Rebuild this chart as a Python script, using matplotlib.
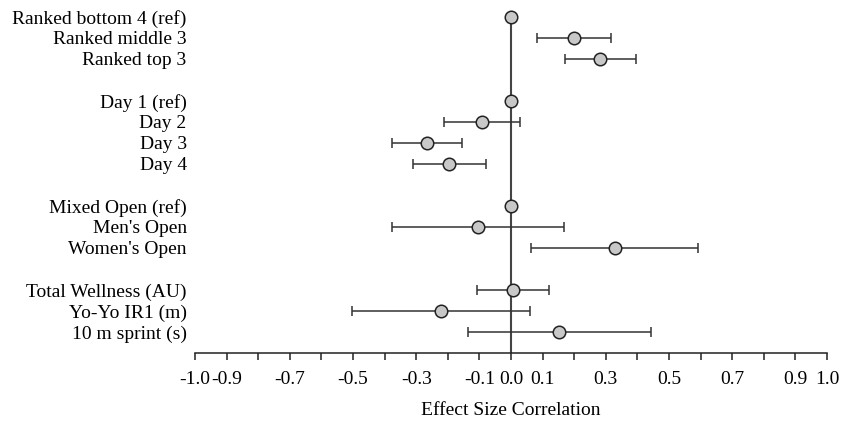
import numpy as np
import matplotlib.pyplot as plt

plt.rcParams['font.family'] = ['Liberation Serif', 'DejaVu Serif']

labels = ["Ranked bottom 4 (ref)", "Ranked middle 3", "Ranked top 3",
          "Day 1 (ref)", "Day 2", "Day 3", "Day 4",
          "Mixed Open (ref)", "Men's Open", "Women's Open",
          "Total Wellness (AU)", "Yo-Yo IR1 (m)", "10 m sprint (s)"]
rows = [0, 1, 2, 4, 5, 6, 7, 9, 10, 11, 13, 14, 15]
effect = [0.0, 0.199, 0.282, 0.0, -0.092, -0.265, -0.196,
          0.0, -0.105, 0.328, 0.005, -0.223, 0.153]
ci_low = [None, 0.081, 0.170, None, -0.212, -0.378, -0.310,
          None, -0.378, 0.064, -0.108, -0.503, -0.135]
ci_high = [None, 0.317, 0.396, None, 0.030, -0.154, -0.080,
           None, 0.167, 0.592, 0.119, 0.060, 0.444]

tick_vals = np.round(np.arange(-1.0, 1.01, 0.1), 1) + 0.0
shown = [-1.0, -0.9, -0.7, -0.5, -0.3, -0.1, 0.0, 0.1, 0.3, 0.5, 0.7, 0.9, 1.0]

fig = plt.figure(figsize=(8.42, 4.29), dpi=100)
ax = fig.add_axes([0.2316, 0.1772, 0.7506, 0.8077])

# zero line
ax.plot([0, 0], [rows[0], 16], color='#444444', lw=1.5, zorder=1)

for y, v, lo, hi in zip(rows, effect, ci_low, ci_high):
    if lo is not None:
        ax.errorbar(v, y, xerr=[[v - lo], [hi - v]], fmt='none',
                    ecolor='#333333', elinewidth=1.1, capsize=3.5, capthick=1.1, zorder=2)
    ax.plot(v, y, 'o', ms=9, mfc='#c8c8c8', mec='#222222', mew=1.1, zorder=3)

def fmt(t):
    s = f"{abs(t):.1f}"
    return "-" + s if t < -1e-9 else s

ax.set_xlim(-1.0, 1.0)
ax.set_ylim(16, -0.5)
ax.set_xticks(tick_vals)
ax.set_xticklabels([fmt(t) if any(abs(t - s) < 1e-9 for s in shown) else "" for t in tick_vals],
                   fontsize=14)
ax.set_yticks(rows)
ax.set_yticklabels(labels, fontsize=14)
ax.tick_params(axis='y', length=0, pad=6)
ax.tick_params(axis='x', length=5, width=1.1, pad=8, color='#222222')
for s in ['top', 'right', 'left']:
    ax.spines[s].set_visible(False)
ax.spines['bottom'].set_linewidth(1.1)
ax.spines['bottom'].set_color('#222222')
ax.set_xlabel("Effect Size Correlation", fontsize=14, labelpad=10)

fig.savefig("out.png", dpi=100)
